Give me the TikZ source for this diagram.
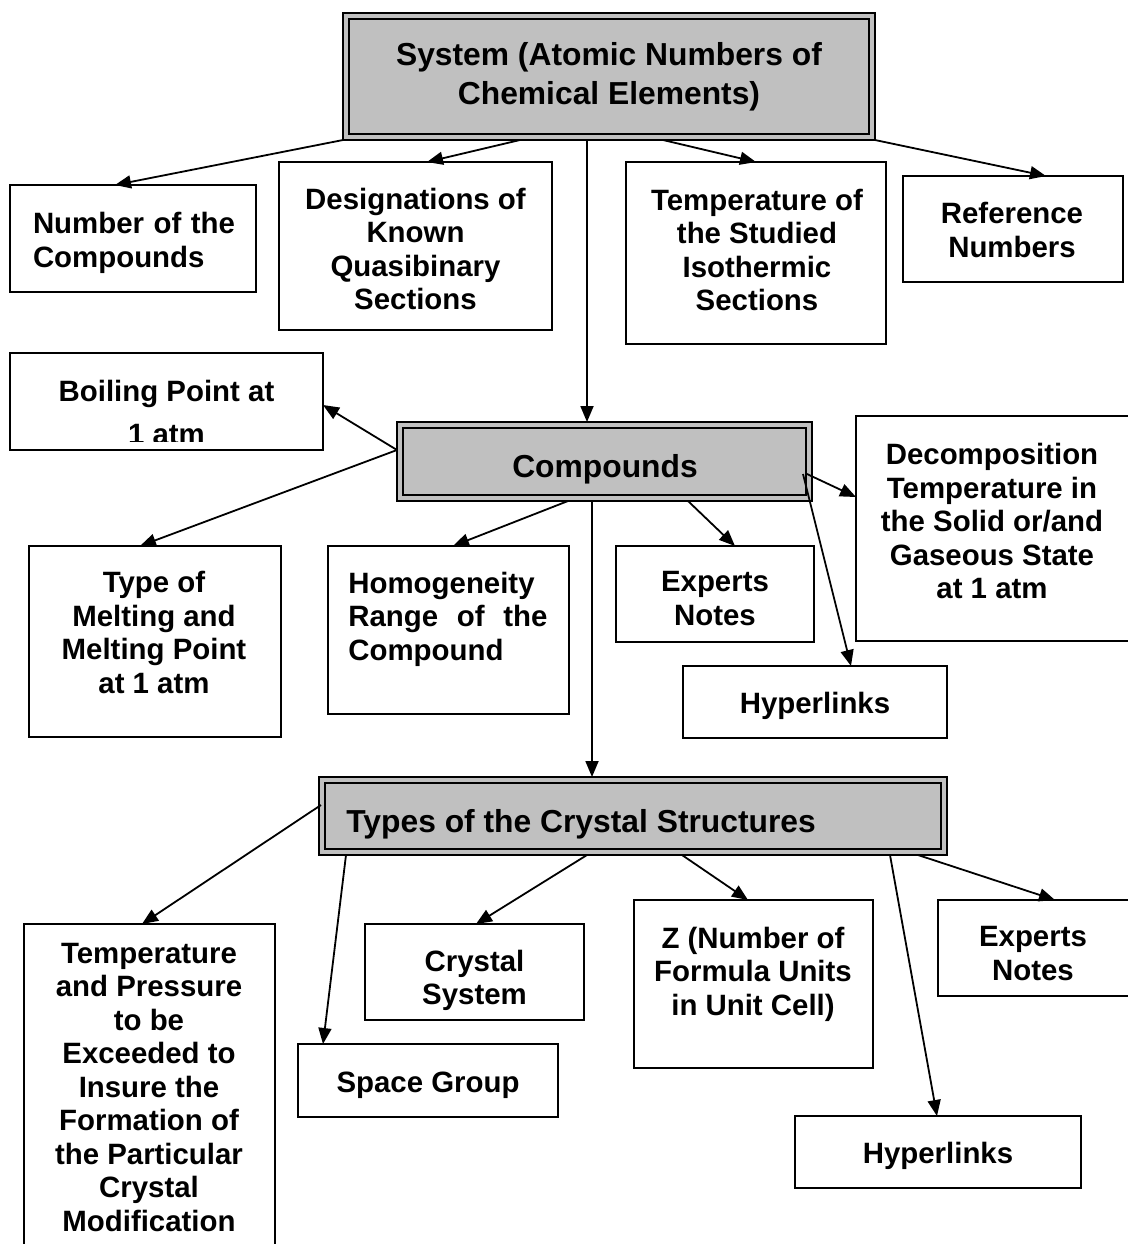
\documentclass[tikz,border=0pt]{standalone}
\usepackage{fontspec}
\setmainfont{Liberation Sans}
\usetikzlibrary{arrows.meta}
\definecolor{boxgray}{HTML}{C0C0C0}
\tikzset{
  plainbox/.style={draw=black, line width=0.9pt, fill=white, inner sep=0pt, outer sep=0pt},
  greybox/.style={draw=black, line width=0.8pt, fill=boxgray, inner sep=0pt, outer sep=0pt},
  txt/.style={align=center, inner sep=0pt, font=\bfseries\fontsize{14.7pt}{16.75pt}\selectfont},
  bigtxt/.style={align=center, inner sep=0pt, font=\bfseries\fontsize{15.9pt}{19.5pt}\selectfont},
  arr/.style={line width=0.9pt, -{Triangle[length=8pt,width=6.5pt]}},
}
% [style]{name}{x1}{y1}{x2}{y2}
\newcommand\mybx[6][plainbox]{%
  \node[#1, minimum width={(#5-#3)*0.5pt}, minimum height={(#6-#4)*0.5pt}] (#2) at ({(#3+#5)/2},{(#4+#6)/2}) {};}
\newcommand\innerframe[1]{%
  \draw[line width=1.2pt] ([shift={(6,6)}]#1.north west) rectangle ([shift={(-6,-6)}]#1.south east);}
\begin{document}
\begin{tikzpicture}[x=0.5pt,y=-0.5pt]
\useasboundingbox (0,0) rectangle (1128,1244);

% ---------- boxes ----------
\mybx[greybox]{sys}{343}{13}{875}{140}
\innerframe{sys}
\mybx{num}{10}{185}{256}{292}
\mybx{des}{279}{162}{552}{330}
\mybx{tst}{626}{162}{886}{344}
\mybx{ref}{903}{176}{1123}{282}
\mybx{boil}{10}{353}{323}{450}
\mybx[greybox]{comp}{397}{422}{812}{501}
\innerframe{comp}
\mybx{dec}{856}{416}{1134}{641}
\mybx{melt}{29}{546}{281}{737}
\mybx{hom}{328}{546}{569}{714}
\mybx{expa}{616}{546}{814}{642}
\mybx{hypa}{683}{666}{947}{738}
\mybx[greybox]{types}{319}{777}{947}{855}
\innerframe{types}
\mybx{tp}{24}{924}{275}{1262}
\mybx{cs}{365}{924}{584}{1020}
\mybx{sg}{298}{1044}{558}{1117}
\mybx{zb}{634}{900}{873}{1068}
\mybx{expb}{938}{900}{1134}{996}
\mybx{hypb}{795}{1116}{1081}{1188}

% ---------- texts ----------
\node[bigtxt] (t-sys) at (609,77) {System (Atomic Numbers of\\Chemical Elements)};
\node[txt, align=left] (t-num) at (134,243) {\makebox[101pt][s]{Number of the}\\Compounds};
\node[txt] (t-des) at (415.5,249) {Designations of\\Known\\Quasibinary\\Sections};
\node[txt] (t-tst) at (757,250) {Temperature of\\the Studied\\Isothermic\\Sections};
\node[txt] (t-ref) at (1012,230) {Reference\\Numbers};
\begin{scope}
  \clip (boil.north west) rectangle ([shift={(0,-9)}]boil.south east);
  \node[txt, font=\bfseries\fontsize{14.7pt}{21.5pt}\selectfont] (t-boil) at (166.5,412.5) {Boiling Point at\\1 atm};
\end{scope}
\node[bigtxt] (t-comp) at (605,469) {Compounds};
\node[txt] (t-dec) at (992,521) {Decomposition\\Temperature in\\the Solid or/and\\Gaseous State\\at 1 atm};
\node[txt] (t-melt) at (154,632.5) {Type of\\Melting and\\Melting Point\\at 1 atm};
\node[txt, align=left, anchor=west] (t-hom) at (348,619) {Homogeneity\\\makebox[99.5pt][s]{Range of the}\\Compound};
\node[txt] (t-expa) at (715,598.5) {Experts\\Notes};
\node[txt] (t-hypa) at (815,706) {Hyperlinks};
\node[bigtxt, anchor=west] (t-types) at (346,824) {Types of the Crystal Structures};
\node[txt] (t-tp) at (149,1087.5) {Temperature\\and Pressure\\to be\\Exceeded to\\Insure the\\Formation of\\the Particular\\Crystal\\Modification};
\node[txt] (t-cs) at (474.5,980.5) {Crystal\\System};
\node[txt] (t-sg) at (428,1085) {Space Group};
\node[txt] (t-zb) at (753,974) {Z (Number of\\Formula Units\\in Unit Cell)};
\node[txt] (t-expb) at (1033,953.5) {Experts\\Notes};
\node[txt] (t-hypb) at (938,1156) {Hyperlinks};

% ---------- connectors ----------
\draw[arr] (sys.south west) -- ([shift={(105,0)}]num.north west);
\draw[arr] ([shift={(177,0)}]sys.south west) -- ([shift={(148,0)}]des.north west);
\draw[arr] ([shift={(244,0)}]sys.south west) -- ([shift={(190,0)}]comp.north west);
\draw[arr] ([shift={(320,0)}]sys.south west) -- ([shift={(130,0)}]tst.north west);
\draw[arr] (sys.south east) -- ([shift={(143,0)}]ref.north west);

\draw[arr] ([shift={(0,28)}]comp.north west) -- ([shift={(0,52)}]boil.north east);
\draw[arr] ([shift={(0,28)}]comp.north west) -- ([shift={(111,0)}]melt.north west);
\draw[arr] ([shift={(171,0)}]comp.south west) -- ([shift={(125,0)}]hom.north west);
\draw[arr] ([shift={(291,0)}]comp.south west) -- ([shift={(119,0)}]expa.north west);
\draw[arr] ([shift={(-5,52)}]comp.north east) -- ([shift={(0,81)}]dec.north west);
\draw[arr] ([shift={(-9,52)}]comp.north east) -- ([shift={(168,0)}]hypa.north west);
\draw[arr] ([shift={(195,0)}]comp.south west) -- ([shift={(273,0)}]types.north west);

\draw[arr] ([shift={(2,28)}]types.north west) -- ([shift={(118,0)}]tp.north west);
\draw[arr] ([shift={(27,0)}]types.south west) -- ([shift={(25,0)}]sg.north west);
\draw[arr] ([shift={(268,0)}]types.south west) -- ([shift={(111,0)}]cs.north west);
\draw[arr] ([shift={(363,0)}]types.south west) -- ([shift={(114,0)}]zb.north west);
\draw[arr] ([shift={(571,0)}]types.south west) -- ([shift={(142,0)}]hypb.north west);
\draw[arr] ([shift={(599,0)}]types.south west) -- ([shift={(117,0)}]expb.north west);
\end{tikzpicture}
\end{document}
